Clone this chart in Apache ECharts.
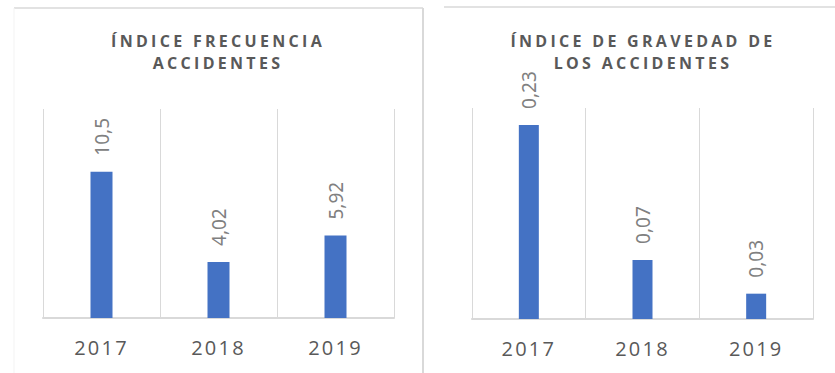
<!DOCTYPE html>
<html>
<head>
<meta charset="utf-8">
<script src="https://cdn.jsdelivr.net/npm/echarts@6/dist/echarts.min.js"></script>
<style>
  html, body { margin: 0; padding: 0; background: #fff; }
  #chart { width: 835px; height: 373px; }
  /* wide tracking for titles and year labels */
  #chart text[style*="Open Sans"] { letter-spacing: 2.2px; }
  #chart text[style*="bold"] { letter-spacing: 3.3px; }
</style>
</head>
<body>
<div id="chart"></div>
<script>
// Years shown on both panels
var years = ['2017', '2018', '2019'];
// Accident frequency index per year
var frequencyIndex = [10.5, 4.02, 5.92];
// Accident severity index per year
var severityIndex = [0.23, 0.07, 0.03];
// Panel titles
var titleFrequency = 'ÍNDICE FRECUENCIA\nACCIDENTES';
var titleSeverity = 'ÍNDICE DE GRAVEDAD DE\nLOS ACCIDENTES';

var BAR = '#4472c4';
var GRID_LINE = '#d9d9d9';
var TEXT_DARK = '#595959';
var TEXT_LIGHT = '#808080';

// decimal comma, as written in Spanish
function comma(v) { return String(v).replace('.', ','); }

function titleOf(text, cx) {
  return {
    text: text,
    left: cx,
    top: 30,
    textAlign: 'center',
    padding: 0,
    textStyle: {
      fontFamily: 'Open Sans',
      fontWeight: 'bold',
      fontSize: 16,
      lineHeight: 22,
      color: TEXT_DARK
    }
  };
}

function xAxisOf(idx) {
  return {
    type: 'category',
    gridIndex: idx,
    data: years,
    boundaryGap: true,
    axisTick: { show: false },
    axisLine: { show: true, lineStyle: { color: GRID_LINE, width: 2 } },
    splitLine: { show: true, lineStyle: { color: GRID_LINE, width: 1 } },
    axisLabel: {
      margin: 19,
      fontFamily: 'Open Sans',
      fontSize: 20,
      lineHeight: 20,
      color: TEXT_DARK
    }
  };
}

function yAxisOf(idx, max) {
  return {
    type: 'value',
    gridIndex: idx,
    min: 0,
    max: max,
    show: false,
    splitLine: { show: false }
  };
}

function barsOf(idx, data, width) {
  return {
    type: 'bar',
    xAxisIndex: idx,
    yAxisIndex: idx,
    data: data,
    barWidth: width,
    itemStyle: { color: BAR },
    label: {
      show: true,
      position: 'top',
      distance: 16,
      rotate: 90,
      align: 'left',
      verticalAlign: 'middle',
      fontFamily: 'Noto Sans',
      fontSize: 19,
      color: TEXT_LIGHT,
      formatter: function (p) { return comma(p.value); }
    }
  };
}

var chart = echarts.init(document.getElementById('chart'), null, { renderer: 'svg' });

chart.setOption({
  animation: false,
  backgroundColor: '#fff',
  title: [titleOf(titleFrequency, 218), titleOf(titleSeverity, 643)],
  grid: [
    { left: 43, top: 109, width: 351, height: 209 },
    { left: 472, top: 108, width: 341, height: 211 }
  ],
  xAxis: [xAxisOf(0), xAxisOf(1)],
  yAxis: [yAxisOf(0, 15), yAxisOf(1, 0.25)],
  series: [barsOf(0, frequencyIndex, 22), barsOf(1, severityIndex, 20)],
  // panel frames
  graphic: [
    { type: 'line', silent: true, shape: { x1: 14, y1: 8, x2: 423, y2: 8 }, style: { stroke: GRID_LINE, lineWidth: 1.5 } },
    { type: 'line', silent: true, shape: { x1: 423, y1: 8, x2: 423, y2: 373 }, style: { stroke: GRID_LINE, lineWidth: 2 } },
    { type: 'line', silent: true, shape: { x1: 14, y1: 8, x2: 14, y2: 373 }, style: { stroke: '#f3f3f3', lineWidth: 1 } },
    { type: 'line', silent: true, shape: { x1: 444, y1: 7, x2: 835, y2: 7 }, style: { stroke: GRID_LINE, lineWidth: 1.5 } }
  ]
});
</script>
</body>
</html>
